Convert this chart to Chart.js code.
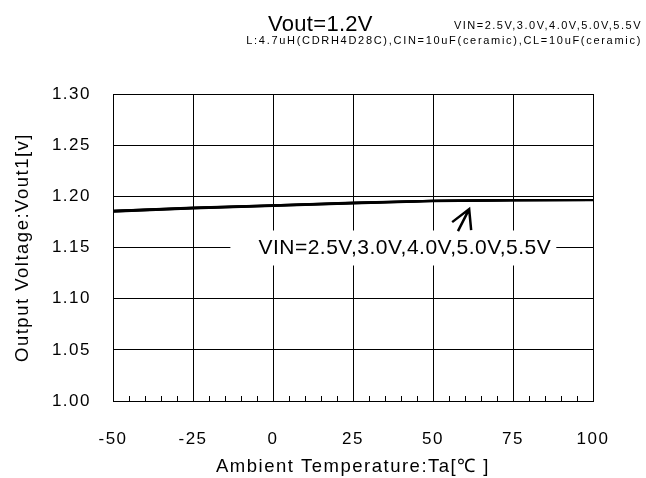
<!DOCTYPE html>
<html>
<head>
<meta charset="utf-8">
<script src="https://cdn.jsdelivr.net/npm/chart.js@4.4.0/dist/chart.umd.min.js"></script>
<style>
  html, body { margin: 0; padding: 0; background: #fff; }
  #wrap { width: 646px; height: 478px; position: relative; }
</style>
</head>
<body>
<div id="wrap"><canvas id="vChart" width="646" height="478"></canvas></div>
<script>
// temperatura ambiente (°C)
const temps = [-50, -25, 0, 25, 50, 75, 100];
// Vout1 para cada VIN
const vin25 = [1.1850, 1.1880, 1.1905, 1.1930, 1.1952, 1.1960, 1.1962];
const vin30 = [1.1853, 1.1883, 1.1908, 1.1933, 1.1954, 1.1961, 1.1963];
const vin40 = [1.1856, 1.1886, 1.1911, 1.1936, 1.1956, 1.1962, 1.1964];
const vin50 = [1.1858, 1.1888, 1.1913, 1.1938, 1.1957, 1.1963, 1.1964];
const vin55 = [1.1860, 1.1890, 1.1914, 1.1939, 1.1958, 1.1964, 1.1965];
const seriesNames = ['VIN=2.5V', 'VIN=3.0V', 'VIN=4.0V', 'VIN=5.0V', 'VIN=5.5V'];
const xTicks = [-50, -25, 0, 25, 50, 75, 100];
const yTicks = [1.00, 1.05, 1.10, 1.15, 1.20, 1.25, 1.30];

const titleMain = 'Vout=1.2V';
const titleVin = 'VIN=2.5V,3.0V,4.0V,5.0V,5.5V';
const titleParts = 'L:4.7uH(CDRH4D28C),CIN=10uF(ceramic),CL=10uF(ceramic)';
const noteText = 'VIN=2.5V,3.0V,4.0V,5.0V,5.5V';
// posição da nota e da seta (em unidades dos dados)
const notePos = [41.2, 1.15];
const arrowFrom = [57.8, 1.166];
const arrowTo = [61.3, 1.1875];

const FONT = '"Liberation Sans", Arial, sans-serif';

const toXY = (arr) => temps.map((t, i) => ({ x: t, y: arr[i] }));

const decor = {
    id: 'decor',
    beforeDraw(chart) {
        chart.ctx.letterSpacing = '1.5px';
    },
    afterDatasetsDraw(chart) {
        const ctx = chart.ctx;
        const xs = chart.scales.x, ys = chart.scales.y;
        const area = chart.chartArea;
        ctx.save();
        // minor ticks no eixo inferior
        ctx.strokeStyle = '#000';
        ctx.lineWidth = 1;
        for (let t = -45; t < 100; t += 5) {
            if (t % 25 === 0) continue;
            const px = Math.round(xs.getPixelForValue(t)) + 0.5;
            ctx.beginPath();
            ctx.moveTo(px, area.bottom);
            ctx.lineTo(px, area.bottom - 5);
            ctx.stroke();
        }
        // nota com fundo branco
        ctx.font = '21px ' + FONT;
        ctx.letterSpacing = '0.5px';
        const nx = xs.getPixelForValue(notePos[0]);
        const ny = ys.getPixelForValue(notePos[1]);
        const w = ctx.measureText(noteText).width;
        ctx.fillStyle = '#fff';
        ctx.fillRect(nx - w / 2 - 28, ny - 17, w + 33, 35);
        ctx.fillStyle = '#000';
        ctx.textAlign = 'center';
        ctx.textBaseline = 'middle';
        ctx.fillText(noteText, nx, ny + 1);
        // seta
        const ax = xs.getPixelForValue(arrowFrom[0]), ay = ys.getPixelForValue(arrowFrom[1]);
        const bx = xs.getPixelForValue(arrowTo[0]), by = ys.getPixelForValue(arrowTo[1]);
        ctx.lineWidth = 2.5;
        ctx.beginPath();
        ctx.moveTo(ax, ay);
        ctx.lineTo(bx, by);
        ctx.moveTo(bx - 17, by + 13);
        ctx.lineTo(bx, by);
        ctx.lineTo(bx + 2, by + 21);
        ctx.stroke();
        ctx.restore();
    },
    afterDraw(chart) {
        const ctx = chart.ctx;
        ctx.save();
        ctx.fillStyle = '#000';
        ctx.textBaseline = 'alphabetic';
        ctx.textAlign = 'left';
        ctx.font = '22px ' + FONT;
        ctx.letterSpacing = '0.3px';
        ctx.fillText(titleMain, 268, 31);
        ctx.font = '11px ' + FONT;
        ctx.letterSpacing = '1.5px';
        ctx.textAlign = 'right';
        ctx.fillText(titleVin, 642, 29);
        ctx.letterSpacing = '1.7px';
        ctx.fillText(titleParts, 642, 44);
        ctx.restore();
    }
};

const allSeries = [vin25, vin30, vin40, vin50, vin55];

new Chart(document.getElementById('vChart'), {
    type: 'line',
    data: {
        datasets: allSeries.map((s, i) => ({
            label: seriesNames[i],
            data: toXY(s),
            borderColor: '#000',
            borderWidth: 2,
            pointRadius: 0,
            tension: 0,
            fill: false
        }))
    },
    options: {
        responsive: false,
        animation: false,
        layout: { padding: { top: 94, right: 53, left: 12, bottom: 0 } },
        plugins: { legend: { display: false }, tooltip: { enabled: false } },
        scales: {
            x: {
                type: 'linear',
                min: -50,
                max: 100,
                afterBuildTicks: (s) => { s.ticks = xTicks.map(v => ({ value: v })); },
                afterFit: (s) => { s.height = 77; },
                grid: { color: '#000', lineWidth: 1, drawTicks: false },
                border: { color: '#000', width: 1 },
                ticks: { color: '#000', font: { size: 17, family: FONT }, padding: 28 },
                title: {
                    display: true,
                    text: 'Ambient Temperature:Ta[\u2103 ]',
                    color: '#000',
                    font: { size: 18.5, family: FONT },
                    padding: { top: 2, bottom: 0 }
                }
            },
            y: {
                min: 1.00,
                max: 1.30,
                afterBuildTicks: (s) => { s.ticks = yTicks.map(v => ({ value: v })); },
                afterFit: (s) => { s.width = 101; },
                grid: { color: '#000', lineWidth: 1, drawTicks: false },
                border: { color: '#000', width: 1 },
                ticks: {
                    color: '#000',
                    font: { size: 17, family: FONT },
                    padding: 22,
                    callback: (v) => v.toFixed(2)
                },
                title: {
                    display: true,
                    text: 'Output Voltage:Vout1[v]',
                    color: '#000',
                    font: { size: 18.5, family: FONT },
                    padding: { top: 0, bottom: 0 }
                }
            }
        }
    },
    plugins: [decor]
});
</script>
</body>
</html>
